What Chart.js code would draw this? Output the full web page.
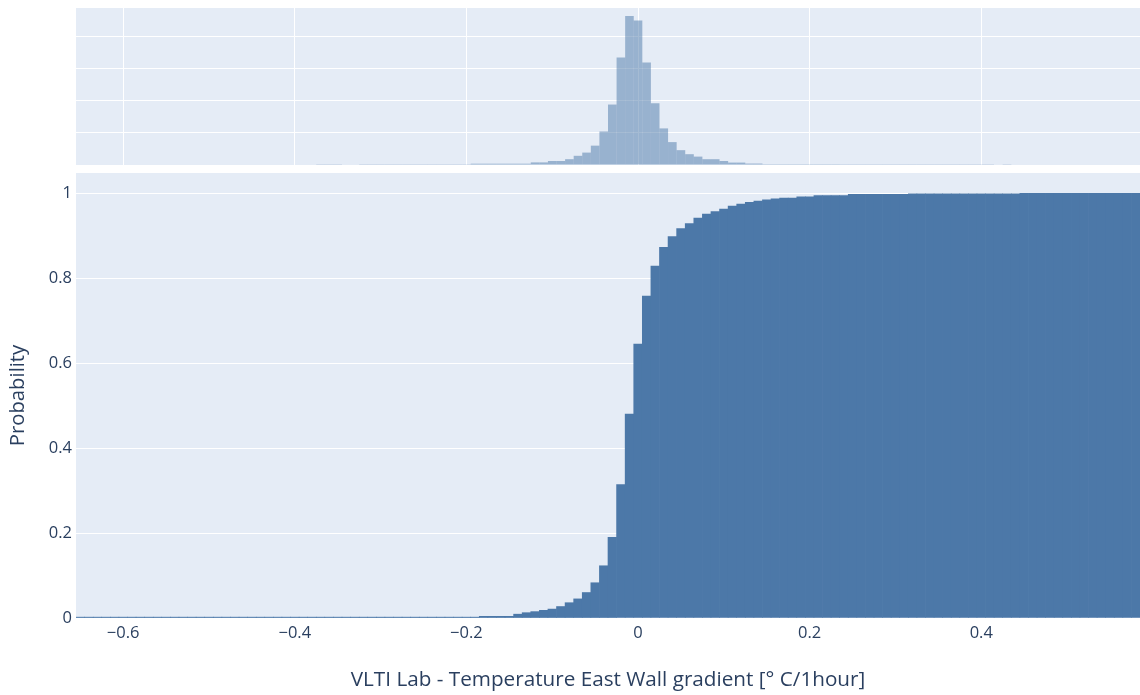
<!DOCTYPE html>
<html>
<head>
<meta charset="utf-8">
<script src="https://cdn.jsdelivr.net/npm/chart.js@4/dist/chart.umd.min.js"></script>
<style>
  html, body { margin: 0; padding: 0; background: #ffffff; }
  #wrap { position: relative; width: 1140px; height: 695px; overflow: hidden; }
  canvas { position: absolute; left: 0; top: 0; }
</style>
</head>
<body>
<div id="wrap">
  <canvas id="mainChart" width="1140" height="695"></canvas>
  <canvas id="marginChart" width="1140" height="172"></canvas>
</div>
<script>
// Histogram bins: 0.01 wide, first bin centred on -0.65
const BIN_WIDTH = 0.01;
const FIRST_BIN_CENTER = -0.65;

// Cumulative probability per bin (lower panel)
const cumulativeProbability = [
  0.002, 0.002, 0.002, 0.002, 0.002, 0.002, 0.002, 0.002, 0.002, 0.002,
  0.002, 0.002, 0.002, 0.002, 0.002, 0.002, 0.002, 0.002, 0.002, 0.002,
  0.002, 0.002, 0.002, 0.002, 0.002, 0.002, 0.002, 0.002, 0.002, 0.002,
  0.002, 0.002, 0.002, 0.002, 0.002, 0.002, 0.002, 0.002, 0.002, 0.002,
  0.002, 0.002, 0.002, 0.002, 0.002, 0.002, 0.002, 0.004, 0.004, 0.004,
  0.004, 0.009, 0.0125, 0.015, 0.018, 0.021, 0.027, 0.036, 0.045, 0.06,
  0.083, 0.123, 0.19, 0.314, 0.48, 0.645, 0.758, 0.829, 0.873, 0.898,
  0.917, 0.929, 0.942, 0.951, 0.957, 0.963, 0.970, 0.975, 0.979, 0.982,
  0.985, 0.987, 0.989, 0.989, 0.992, 0.992, 0.995, 0.995, 0.995, 0.995,
  0.998, 0.998, 0.998, 0.998, 0.998, 0.998, 0.998, 0.999, 0.999, 0.999,
  0.999, 0.999, 0.999, 0.999, 0.999, 0.999, 0.999, 0.999, 0.999, 0.999,
  1, 1, 1, 1, 1, 1, 1, 1, 1, 1,
  1, 1, 1, 1
];

// Sample counts per bin (marginal histogram, upper panel)
const binCounts = [
  0, 0, 0, 0, 0, 0, 0, 0, 0, 0,
  0, 0, 0, 0, 0, 0, 0, 0, 0, 0,
  0, 0, 0, 0, 0, 0, 0, 0, 8, 8,
  8, 0, 0, 8, 8, 8, 8, 8, 8, 8,
  8, 8, 8, 8, 8, 8, 40, 40, 40, 40,
  40, 40, 40, 80, 80, 125, 125, 180, 285, 385,
  600, 1040, 1875, 3335, 4625, 4480, 3180, 1915, 1135, 710,
  460, 335, 260, 180, 180, 125, 75, 75, 45, 45,
  25, 25, 25, 25, 25, 25, 25, 25, 25, 8,
  8, 8, 8, 8, 8, 8, 8, 8, 8, 8,
  8, 8, 8, 8, 8, 8, 8, 0, 8, 0,
  0, 0, 0, 0, 0, 0, 0, 0, 0, 0,
  0, 0, 0, 0
];

// Axis tick values
const xTickValues = [-0.6, -0.4, -0.2, 0, 0.2, 0.4];
const yTickValues = [0, 0.2, 0.4, 0.6, 0.8, 1];
const countGridValues = [0, 1000, 2000, 3000, 4000];

const X_MIN = -0.655, X_MAX = 0.585;
const X_TITLE = 'VLTI Lab - Temperature East Wall gradient [° C/1hour]';
const Y_TITLE = 'Probability';

const binCenters = cumulativeProbability.map((_, i) => +(FIRST_BIN_CENTER + i * BIN_WIDTH).toFixed(2));

const FONT = '"Open Sans", "DejaVu Sans", sans-serif';
const TEXT = '#2a3f5f';
const PLOT_BG = '#E5ECF6';
const BAR = '#4C78A8';

const plotBackground = {
  id: 'plotBackground',
  beforeDraw(chart) {
    const { ctx, chartArea: a } = chart;
    ctx.save();
    ctx.fillStyle = PLOT_BG;
    ctx.fillRect(a.left, a.top, a.right - a.left, a.bottom - a.top);
    ctx.restore();
  }
};

const fmt = v => String(v).replace('-', '\u2212');

// Lower panel: cumulative histogram
new Chart(document.getElementById('mainChart'), {
  type: 'bar',
  data: {
    datasets: [{
      data: binCenters.map((x, i) => ({ x, y: cumulativeProbability[i] })),
      backgroundColor: BAR,
      borderWidth: 0,
      barPercentage: 1,
      categoryPercentage: 1
    }]
  },
  options: {
    responsive: false,
    animation: false,
    events: [],
    layout: { padding: { top: 173, left: 0, right: 0, bottom: 0 } },
    plugins: { legend: { display: false }, tooltip: { enabled: false } },
    scales: {
      x: {
        type: 'linear',
        min: X_MIN, max: X_MAX,
        offset: false,
        grid: { display: false, drawTicks: false, offset: false },
        border: { display: false },
        afterBuildTicks: s => { s.ticks = xTickValues.map(v => ({ value: v })); },
        afterFit: s => { s.height = 77; },
        ticks: {
          color: TEXT, padding: 5, maxRotation: 0, autoSkip: false,
          font: { family: FONT, size: 16.5 },
          callback: v => fmt(v)
        },
        title: {
          display: true, text: X_TITLE, color: TEXT,
          font: { family: FONT, size: 20.7 },
          padding: { top: 0, bottom: 2 }
        }
      },
      y: {
        min: 0, max: 1.048,
        grid: { color: '#ffffff', lineWidth: 1, drawTicks: false },
        border: { display: false },
        afterBuildTicks: s => { s.ticks = yTickValues.map(v => ({ value: v })); },
        afterFit: s => { s.width = 76; },
        ticks: {
          color: TEXT, padding: 4,
          font: { family: FONT, size: 16.5 },
          callback: v => fmt(v)
        },
        title: {
          display: true, text: Y_TITLE, color: TEXT,
          font: { family: FONT, size: 20.3 },
          padding: { top: 6, bottom: 0 }
        }
      }
    }
  },
  plugins: [plotBackground]
});

// Upper panel: marginal histogram of the same bins
new Chart(document.getElementById('marginChart'), {
  type: 'bar',
  data: {
    datasets: [{
      data: binCenters.map((x, i) => ({ x, y: binCounts[i] })),
      backgroundColor: 'rgba(76,120,168,0.5)',
      borderWidth: 0,
      inflateAmount: 0,
      barPercentage: 1,
      categoryPercentage: 1
    }]
  },
  options: {
    responsive: false,
    animation: false,
    events: [],
    layout: { padding: { top: 8, left: 76, right: 0, bottom: 7 } },
    plugins: { legend: { display: false }, tooltip: { enabled: false } },
    scales: {
      x: {
        type: 'linear',
        min: X_MIN, max: X_MAX,
        offset: false,
        grid: { color: '#ffffff', lineWidth: 1, drawTicks: false, offset: false },
        border: { display: false },
        afterBuildTicks: s => { s.ticks = xTickValues.map(v => ({ value: v })); },
        afterFit: s => { s.height = 0; },
        ticks: { display: false }
      },
      y: {
        min: 0, max: 4870,
        grid: { color: '#ffffff', lineWidth: 1, drawTicks: false },
        border: { display: false },
        afterBuildTicks: s => { s.ticks = countGridValues.map(v => ({ value: v })); },
        afterFit: s => { s.width = 0; },
        ticks: { display: false }
      }
    }
  },
  plugins: [plotBackground]
});
</script>
</body>
</html>
